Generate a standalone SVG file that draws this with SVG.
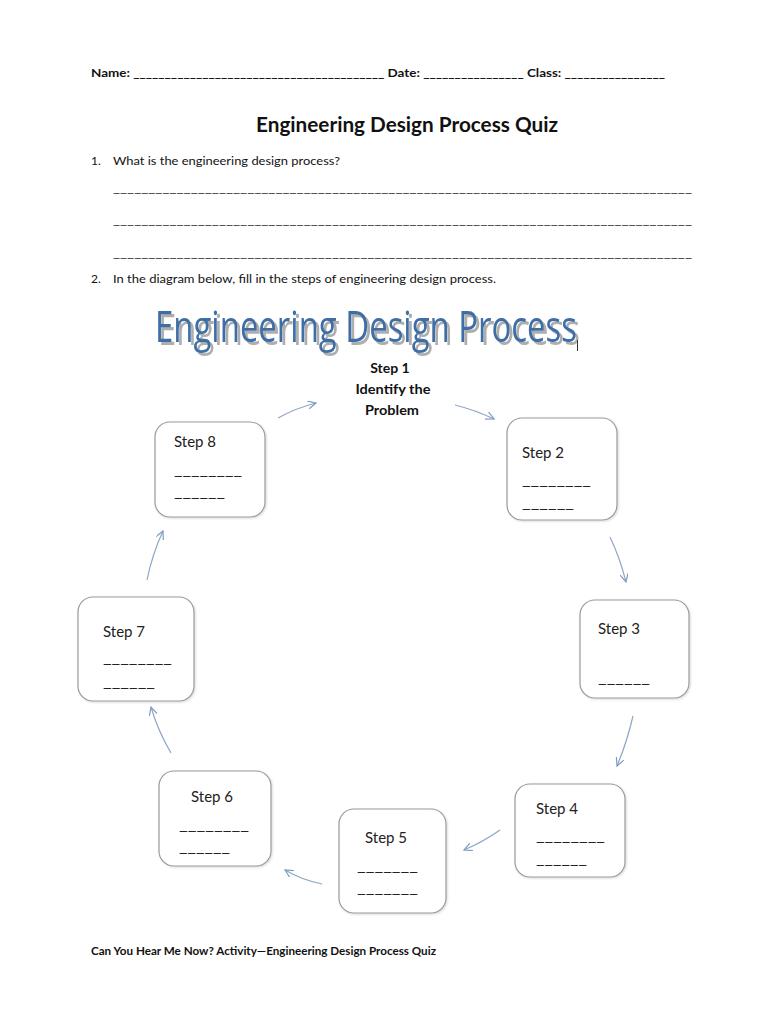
<svg xmlns="http://www.w3.org/2000/svg" width="770" height="1024" viewBox="0 0 770 1024">
<style>
.t{font-family:Lato,"Open Sans","Liberation Sans",sans-serif;fill:#111}
.b{font-weight:bold}
.box{fill:#fff;stroke:#9a9a9a;stroke-width:1.2}
.st{font-family:Lato,"Open Sans","Liberation Sans",sans-serif;font-size:15px;fill:#222}
.conn path{fill:none;stroke:#8ea6c6;stroke-width:1.2}
</style>
<defs>
<marker id="ah" markerWidth="10" markerHeight="10" refX="8" refY="4" orient="auto" markerUnits="userSpaceOnUse">
<path d="M0,0 L8,4 L0,8" fill="none" stroke="#7f9bc0" stroke-width="1.2"/>
</marker>
<filter id="sh" x="-5%" y="-5%" width="115%" height="115%">
<feDropShadow dx="1" dy="1" stdDeviation="1" flood-color="#000" flood-opacity="0.15"/>
</filter>
<filter id="tsh" x="-5%" y="-10%" width="110%" height="130%">
<feDropShadow dx="3" dy="3" stdDeviation="0.6" flood-color="#9a9a9a" flood-opacity="0.8"/>
</filter>
</defs>
<rect width="770" height="1024" fill="#fff"/>

<g id="header">
<text class="t b" x="91" y="77" font-size="11" textLength="574" lengthAdjust="spacingAndGlyphs">Name: ________________________________________ Date: ________________ Class: ________________</text>
<text class="t b" x="407" y="132" font-size="20.5" text-anchor="middle" textLength="302" lengthAdjust="spacingAndGlyphs">Engineering Design Process Quiz</text>
<text class="t" x="91" y="165" font-size="12">1.</text>
<text class="t" x="113" y="165" font-size="12" textLength="227" lengthAdjust="spacingAndGlyphs">What is the engineering design process?</text>
<text class="t" x="113" y="192" font-size="11.5" textLength="579" lengthAdjust="spacingAndGlyphs">__________________________________________________________________________________</text>
<text class="t" x="113" y="224" font-size="11.5" textLength="579" lengthAdjust="spacingAndGlyphs">__________________________________________________________________________________</text>
<text class="t" x="113" y="257" font-size="11.5" textLength="579" lengthAdjust="spacingAndGlyphs">__________________________________________________________________________________</text>
<text class="t" x="91" y="283" font-size="12">2.</text>
<text class="t" x="113" y="283" font-size="12" textLength="383" lengthAdjust="spacingAndGlyphs">In the diagram below, fill in the steps of engineering design process.</text>
</g>

<g id="diagram-title">
<text x="155" y="342" font-family="'Open Sans',Lato,sans-serif" font-size="44" fill="#3c6ea5" textLength="422" lengthAdjust="spacingAndGlyphs" filter="url(#tsh)">Engineering Design Process</text>
<line x1="577.5" y1="340" x2="577.5" y2="351" stroke="#333" stroke-width="1"/>
</g>

<g id="step1">
<text class="t b" x="390" y="373" font-size="14" text-anchor="middle">Step 1</text>
<text class="t b" x="393" y="394" font-size="13" text-anchor="middle" textLength="75" lengthAdjust="spacingAndGlyphs">Identify the</text>
<text class="t b" x="392" y="415" font-size="13" text-anchor="middle" textLength="54" lengthAdjust="spacingAndGlyphs">Problem</text>
</g>

<g id="step2">
<rect class="box" x="507" y="418" width="110" height="102" rx="15" filter="url(#sh)"/>
<text class="st" x="522" y="458">Step 2</text>
<text class="st" x="522" y="485" textLength="69" lengthAdjust="spacingAndGlyphs">________</text>
<text class="st" x="522" y="508" textLength="52" lengthAdjust="spacingAndGlyphs">______</text>
</g>

<g id="step3">
<rect class="box" x="580" y="600" width="109" height="98" rx="15" filter="url(#sh)"/>
<text class="st" x="598" y="634">Step 3</text>
<text class="st" x="598" y="683" textLength="52" lengthAdjust="spacingAndGlyphs">______</text>
</g>

<g id="step4">
<rect class="box" x="515" y="784" width="110" height="93" rx="15" filter="url(#sh)"/>
<text class="st" x="536" y="814">Step 4</text>
<text class="st" x="536" y="841" textLength="69" lengthAdjust="spacingAndGlyphs">________</text>
<text class="st" x="536" y="864" textLength="51" lengthAdjust="spacingAndGlyphs">______</text>
</g>

<g id="step5">
<rect class="box" x="339" y="809" width="107" height="104" rx="15" filter="url(#sh)"/>
<text class="st" x="365" y="843">Step 5</text>
<text class="st" x="357" y="871" textLength="61" lengthAdjust="spacingAndGlyphs">_______</text>
<text class="st" x="357" y="893" textLength="61" lengthAdjust="spacingAndGlyphs">_______</text>
</g>

<g id="step6">
<rect class="box" x="159" y="771" width="112" height="95" rx="15" filter="url(#sh)"/>
<text class="st" x="191" y="802">Step 6</text>
<text class="st" x="179" y="830" textLength="70" lengthAdjust="spacingAndGlyphs">________</text>
<text class="st" x="179" y="852" textLength="51" lengthAdjust="spacingAndGlyphs">______</text>
</g>

<g id="step7">
<rect class="box" x="78" y="597" width="116" height="104" rx="15" filter="url(#sh)"/>
<text class="st" x="103" y="637">Step 7</text>
<text class="st" x="103" y="663" textLength="69" lengthAdjust="spacingAndGlyphs">________</text>
<text class="st" x="103" y="687" textLength="52" lengthAdjust="spacingAndGlyphs">______</text>
</g>

<g id="step8">
<rect class="box" x="155" y="422" width="110" height="95" rx="15" filter="url(#sh)"/>
<text class="st" x="174" y="447">Step 8</text>
<text class="st" x="174" y="475" textLength="68" lengthAdjust="spacingAndGlyphs">________</text>
<text class="st" x="174" y="497" textLength="51" lengthAdjust="spacingAndGlyphs">______</text>
</g>

<g class="conn" id="connectors">
<path d="M278,418 Q296,408 316,403" marker-end="url(#ah)"/>
<path d="M455,405 Q475,410 494,419" marker-end="url(#ah)"/>
<path d="M610,537 Q620,558 626,582" marker-end="url(#ah)"/>
<path d="M633,716 Q627,742 617,766" marker-end="url(#ah)"/>
<path d="M500,830 Q483,842 464,850" marker-end="url(#ah)"/>
<path d="M322,884 Q302,880 285,870" marker-end="url(#ah)"/>
<path d="M171,753 Q158,731 151,707" marker-end="url(#ah)"/>
<path d="M147,580 Q152,555 163,531" marker-end="url(#ah)"/>
</g>

<g id="footer">
<text class="t b" x="91" y="955" font-size="11" textLength="345" lengthAdjust="spacingAndGlyphs">Can You Hear Me Now? Activity—Engineering Design Process Quiz</text>
</g>
</svg>
